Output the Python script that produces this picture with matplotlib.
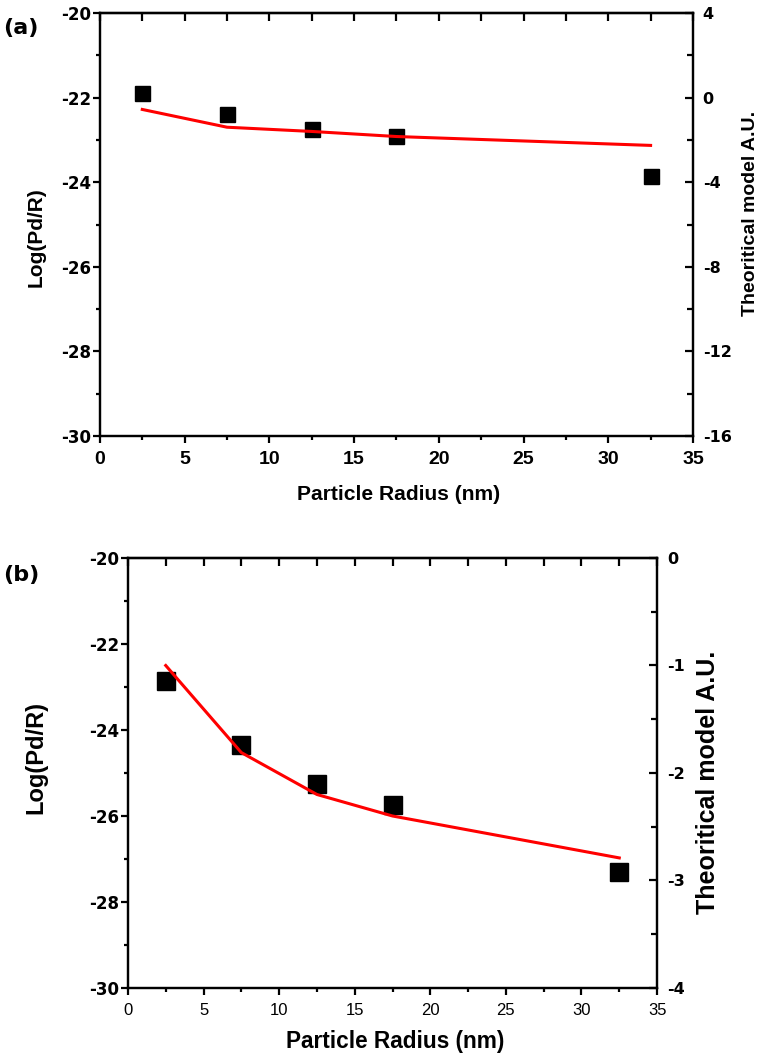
import numpy as np
import matplotlib
matplotlib.use("Agg")
import matplotlib.pyplot as plt
from matplotlib.ticker import MultipleLocator

plt.rcParams['font.family'] = ['DejaVu Sans']
plt.rcParams['font.weight'] = 'bold'
plt.rcParams['axes.labelweight'] = 'bold'
plt.rcParams['axes.unicode_minus'] = False

ARIAL = ['Liberation Sans', 'DejaVu Sans']

radius = [2.5, 7.5, 12.5, 17.5, 32.5]
# panel (a)
a_exp = [-21.9, -22.38, -22.75, -22.9, -23.85]
a_model = [-0.56, -1.4, -1.6, -1.84, -2.26]
# panel (b)
b_exp = [-22.87, -24.35, -25.26, -25.74, -27.3]
b_model = [-1.0, -1.81, -2.2, -2.4, -2.79]

xlabel = "Particle Radius (nm)"
ylabel = "Log(Pd/R)"
ylabel2 = "Theoritical model A.U."


def fit_width(txt, target_px):
    # grow/shrink a text until its drawn width is about target_px
    r = fig.canvas.get_renderer()
    for _ in range(3):
        w = txt.get_window_extent(r).width
        txt.set_fontsize(txt.get_fontsize() * target_px / w)


def panel(rect, x, yexp, ymod, r_lim, r_major, r_minor, ms, xt_weight, xt_size,
          lab_size, r_lab_size, xlab_w, pos, letter):
    ax = fig.add_axes(rect)
    ax.plot(x, yexp, 's', color='black', ms=ms, zorder=3)
    ax.set_xlim(0, 35)
    ax.set_ylim(-30, -20)
    ax.xaxis.set_major_locator(MultipleLocator(5))
    ax.xaxis.set_minor_locator(MultipleLocator(2.5))
    ax.yaxis.set_major_locator(MultipleLocator(2))
    ax.yaxis.set_minor_locator(MultipleLocator(1))
    for s in ax.spines.values():
        s.set_linewidth(1.6)

    ax.tick_params(axis='both', which='major', direction='out', length=5, width=1.6)
    ax.tick_params(axis='both', which='minor', direction='out', length=3, width=1.6)
    ax.tick_params(axis='y', labelsize=12, pad=1)
    ax.tick_params(axis='x', labelsize=xt_size, pad=6)
    plt.setp(ax.get_xticklabels(), family=ARIAL, weight=xt_weight)

    # top ticks point inward
    top = ax.secondary_xaxis('top')
    top.xaxis.set_major_locator(MultipleLocator(5))
    top.xaxis.set_minor_locator(MultipleLocator(2.5))
    top.tick_params(which='major', direction='in', length=6, width=1.6, labeltop=False)
    top.tick_params(which='minor', direction='in', length=6, width=1.6)
    top.spines['top'].set_linewidth(1.6)

    xl = ax.set_xlabel(xlabel, family=ARIAL, weight='bold', fontsize=16)
    ax.xaxis.set_label_coords(pos[0], pos[1])
    xl.set_va('center')
    fit_width(xl, xlab_w)

    yl = ax.set_ylabel(ylabel, family=ARIAL, fontsize=lab_size)
    ax.yaxis.set_label_coords(pos[2], pos[3])
    yl.set_va('baseline')

    ax2 = ax.twinx()
    ax2.plot(x, ymod, '-', color='#ff0000', lw=2.2)
    ax2.set_ylim(*r_lim)
    ax2.yaxis.set_major_locator(MultipleLocator(r_major))
    ax2.yaxis.set_minor_locator(MultipleLocator(r_minor))
    ax2.tick_params(which='major', direction='in', length=6, width=1.6, labelsize=11.5, pad=7)
    ax2.tick_params(which='minor', direction='in', length=4, width=1.6)
    for s in ax2.spines.values():
        s.set_linewidth(1.6)
    yl2 = ax2.set_ylabel(ylabel2, family=ARIAL, fontsize=r_lab_size)
    ax2.yaxis.set_label_coords(pos[4], pos[5])
    yl2.set_va('baseline')

    fig.text(letter[0], letter[1], letter[2], fontsize=16, weight='bold',
             ha='left', va='top')
    return ax, ax2


fig = plt.figure(figsize=(7.57, 10.57), dpi=100)

panel([0.132, 0.5875, 0.7834, 0.4002], radius, a_exp, a_model,
      (-16, 4), 4, 2, 10.8, 'bold', 14, 15, 14, 203,
      (0.503, -0.139, -0.098, 0.47, 1.1045, 0.525), (0.004, 0.983, '(a)'))
panel([0.169, 0.0653, 0.699, 0.4068], radius, b_exp, b_model,
      (-4, 0), 1, 0.5, 12.7, 'normal', 12, 17, 18, 219,
      (0.505, -0.125, -0.161, 0.535, 1.1096, 0.479), (0.004, 0.4655, '(b)'))

fig.savefig("out.png", dpi=100)
